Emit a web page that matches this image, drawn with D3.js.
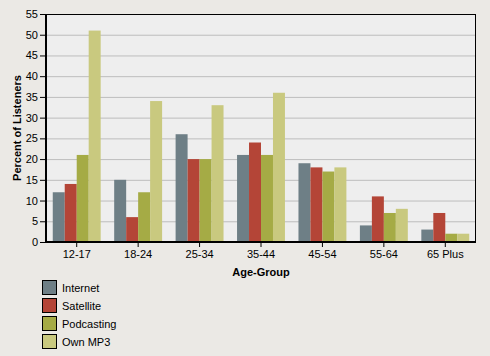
<!DOCTYPE html>
<html><head><meta charset="utf-8">
<script src="https://cdn.jsdelivr.net/npm/d3@7"></script>
<style>
html,body{margin:0;padding:0;background:#ebe9e5;}
svg{display:block;font-family:"Liberation Sans",Arial,sans-serif;}
</style></head>
<body><svg id="c" width="490" height="356"></svg>
<script>
const categories = ["12-17","18-24","25-34","35-44","45-54","55-64","65 Plus"];
const seriesNames = ["Internet","Satellite","Podcasting","Own MP3"];
const internet   = [12,15,26,21,19,4,3];
const satellite  = [14,6,20,24,18,11,7];
const podcasting = [21,12,20,21,17,7,2];
const ownMP3     = [51,34,33,36,18,8,2];
const yTicks = [0,5,10,15,20,25,30,35,40,45,50,55];
const colors = ["#6e7f86","#b44537","#a5ab45","#c9c97f"];

const series = [internet, satellite, podcasting, ownMP3];
const svg = d3.select("#c");
const L=46, R=476, T=14, B=242;
const x = d3.scaleBand().domain(categories).range([L,R]).paddingInner(0.22).paddingOuter(0.11);
const xs = d3.scaleBand().domain(seriesNames).range([0,x.bandwidth()]);
const y = d3.scaleLinear().domain([0,55]).range([B,T]);

svg.append("rect").attr("x",L).attr("y",T).attr("width",R-L).attr("height",B-T).attr("fill","#eeeeee");
svg.append("g").selectAll("line").data(yTicks.filter(d=>d>0&&d<55)).join("line")
  .attr("x1",L).attr("x2",R).attr("y1",d=>y(d)+0.5).attr("y2",d=>y(d)+0.5)
  .attr("stroke","#bdbdbd").attr("stroke-width",1);

const g = svg.append("g");
series.forEach((vals,si)=>{
  g.append("g").selectAll("rect").data(vals).join("rect")
    .attr("x",(d,i)=>x(categories[i])+xs(seriesNames[si]))
    .attr("width",xs.bandwidth())
    .attr("y",d=>y(d))
    .attr("height",d=>B-y(d))
    .attr("fill",colors[si]);
});

// frame
svg.append("rect").attr("x",L+0.5).attr("y",T+0.5).attr("width",R-L-1).attr("height",B-T)
  .attr("fill","none").attr("stroke","#000").attr("stroke-width",1);
svg.append("line").attr("x1",L).attr("x2",L).attr("y1",T).attr("y2",B+1).attr("stroke","#000").attr("stroke-width",2);
svg.append("line").attr("x1",L-1).attr("x2",R).attr("y1",B).attr("y2",B).attr("stroke","#000").attr("stroke-width",2);

const ya = svg.append("g").attr("transform",`translate(${L-1},0)`)
  .call(d3.axisLeft(y).tickValues(yTicks).tickSize(5).tickPadding(2));
ya.select(".domain").remove();
ya.selectAll("text").attr("font-size",11).attr("fill","#000").attr("font-family","Liberation Sans, Arial, sans-serif");

const xa = svg.append("g").attr("transform",`translate(0,${B+1})`)
  .call(d3.axisBottom(x).tickSize(4).tickPadding(3));
xa.select(".domain").remove();
xa.selectAll("text").attr("font-size",11).attr("fill","#000").attr("font-family","Liberation Sans, Arial, sans-serif");

svg.append("text").attr("x",(L+R)/2).attr("y",276).attr("text-anchor","middle")
  .attr("font-size",11).attr("font-weight","bold").text("Age-Group");
svg.append("text").attr("transform",`translate(21,${(T+B)/2}) rotate(-90)`).attr("text-anchor","middle")
  .attr("font-size",11).attr("font-weight","bold").text("Percent of Listeners");

const lg = svg.append("g").selectAll("g").data(seriesNames).join("g")
  .attr("transform",(d,i)=>`translate(42,${280+i*18})`);
lg.append("rect").attr("x",0.5).attr("y",0.5).attr("width",14).attr("height",14)
  .attr("fill",(d,i)=>colors[i]).attr("stroke","#000").attr("stroke-width",1);
lg.append("text").attr("x",20).attr("y",11.5).attr("font-size",11).text(d=>d);
</script></body></html>
